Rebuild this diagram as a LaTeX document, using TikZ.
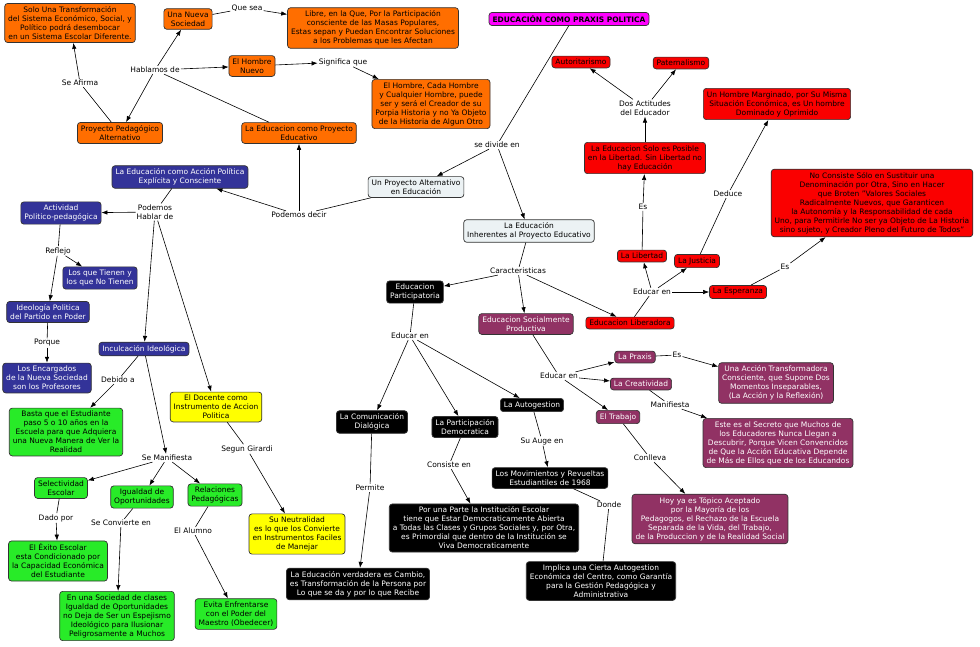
\documentclass[tikz,border=0pt]{standalone}
\usepackage{fontspec}
\setmainfont{DejaVu Sans}
\usetikzlibrary{arrows.meta}
\definecolor{org}{RGB}{255,110,0}
\definecolor{redb}{RGB}{250,0,0}
\definecolor{blu}{RGB}{51,51,153}
\definecolor{yel}{RGB}{255,255,0}
\definecolor{grn}{RGB}{40,235,40}
\definecolor{pur}{RGB}{145,50,100}
\definecolor{mag}{RGB}{255,0,255}
\definecolor{lgr}{RGB}{236,242,244}
\tikzset{
 box/.style={draw=black!80,line width=0.7pt,rounded corners=3pt,align=center,inner xsep=3.5pt,inner ysep=3pt,font=\fontsize{7.5}{9}\selectfont},
 O/.style={box,fill=org},
 R/.style={box,fill=redb},
 B/.style={box,fill=blu,text=white},
 Y/.style={box,fill=yel},
 G/.style={box,fill=grn},
 P/.style={box,fill=pur,text=white},
 K/.style={box,fill=black,text=white},
 L/.style={box,fill=lgr},
 lab/.style={fill=white,inner sep=1pt,align=center,font=\fontsize{7.5}{9}\selectfont},
 ar/.style={-{Latex[length=6pt,width=4.5pt]},line width=0.6pt},
 ln/.style={line width=0.6pt},
}
\begin{document}
\begin{tikzpicture}[x=1pt,y=-1pt]
\useasboundingbox[fill=white] (0,0) rectangle (980,646);
% orange
\node[O] (o1) at (70,23) {Solo Una Transformación\\del Sistema Económico, Social, y\\Político podrá desembocar\\en un Sistema Escolar Diferente.};
\node[O] (o2) at (188,19) {Una Nueva\\Sociedad};
\node[O] (o3) at (373,28) {Libre, en la Que, Por la Participación\\consciente de las Masas Populares,\\Estas sepan y Puedan Encontrar Soluciones\\a los Problemas que les Afectan};
\node[O] (o4) at (252,66) {El Hombre\\Nuevo};
\node[O] (o5) at (431,104) {El Hombre, Cada Hombre\\y Cualquier Hombre, puede\\ser y será el Creador de su\\Porpia Historia y no Ya Objeto\\de la Historia de Algun Otro};
\node[O] (o6) at (120,133) {Proyecto Pedagógico\\Alternativo};
\node[O] (o7) at (299,133) {La Educacion como Proyecto\\Educativo};
\node[lab] (lq) at (247,8) {Que sea};
\node[lab] (lh) at (155,70) {Hablamos de};
\node[lab] (lsa) at (80,83) {Se Afirma};
\node[lab] (lsq) at (343,62) {Significa que};
\draw[ln] (o2) -- (lq); \draw[ar] (lq) -- (o3);
\draw[ar] (lh) -- (o2); \draw[ar] (lh) -- (o4); \draw[ar] (lh) -- (o6);
\draw[ln] (o7.north) ++(-30,0) -- (lh);
\draw[ln] (o6) -- (lsa); \draw[ar] (lsa) -- (o1);
\draw[ar] (o4) -- (lsq); \draw[ar] (lsq) -- (o5);
% title
\node[box,fill=mag,font=\bfseries\fontsize{7.5}{9}\selectfont] (t) at (569,19) {EDUCACIÓN COMO PRAXIS POLITICA};
\node[lab] (lsd) at (497,145) {se divide en};
\node[L] (pa) at (416,187) {Un Proyecto Alternativo\\en Educación};
\node[L] (inh) at (529,231) {La Educación\\Inherentes al Proyecto Educativo};
\draw[ln] (t.south west)++(80,0) -- (lsd); \draw[ar] (lsd) -- (pa); \draw[ar] (lsd) -- (inh);
% red
\node[R] (aut) at (581,62) {Autoritarismo};
\node[R] (pat) at (681,63) {Paternalismo};
\node[lab] (lda) at (645,108) {Dos Actitudes\\del Educador};
\node[R] (sol) at (645,158) {La Educacion Solo es Posible\\en la Libertad. Sin Libertad no\\hay Educación};
\node[R] (hm) at (777,104) {Un Hombre Marginado, por Su Misma\\Situación Económica, es Un hombre\\Dominado y Oprimido};
\node[R] (nc) at (872,203) {No Consiste Sólo en Sustituir una\\Denominación por Otra, Sino en Hacer\\que Broten "Valores Sociales\\Radicalmente Nuevos, que Garanticen\\la Autonomía y la Responsabilidad de cada\\Uno, para Permitirle No ser ya Objeto de La Historia\\sino sujeto, y Creador Pleno del Futuro de Todos"};
\node[R] (lib) at (642,256) {La Libertad};
\node[R] (jus) at (697,261) {La Justicia};
\node[R] (esp) at (738,292) {La Esperanza};
\node[R] (edl) at (630,323) {Educacion Liberadora};
\node[lab] (les) at (643,207) {Es};
\node[lab] (lde) at (728,194) {Deduce};
\node[lab] (lee) at (652,292) {Educar en};
\node[lab] (les2) at (785,267) {Es};
\draw[ln] (lib) -- (les); \draw[ar] (les) -- (sol);
\draw[ar] (sol) -- (lda); \draw[ar] (lda) -- (aut); \draw[ar] (lda) -- (pat);
\draw[ln] (jus) -- (lde); \draw[ar] (lde) -- (hm);
\draw[ln] (edl) -- (lee); \draw[ar] (lee) -- (lib); \draw[ar] (lee) -- (jus); \draw[ar] (lee) -- (esp);
\draw[ln] (esp) -- (les2); \draw[ar] (les2) -- (nc);
% characteristics
\node[lab] (lca) at (518,271) {Caracteristicas};
\node[K] (epa) at (415,292) {Educacion\\Participatoria};
\node[P] (esp2) at (526,324) {Educacion Socialmente\\Productiva};
\draw[ln] (inh) -- (lca); \draw[ar] (lca) -- (epa); \draw[ar] (lca) -- (esp2); \draw[ar] (lca) -- (edl);
% black
\node[lab] (lep) at (410,336) {Educar en};
\node[K] (com) at (372,422) {La Comunicación\\Dialógica};
\node[K] (par) at (465,427) {La Participación\\Democratica};
\node[K] (aug) at (532,405) {La Autogestion};
\node[K] (mov) at (550,478) {Los Movimientos y Revueltas\\Estudiantiles de 1968};
\node[K] (por) at (484,528) {Por una Parte la Institución Escolar\\tiene que Estar Democraticamente Abierta\\a Todas las Clases y Grupos Sociales y, por Otra,\\es Primordial que dentro de la Institución se\\Viva Democraticamente};
\node[K] (ver) at (358,584) {La Educación verdadera es Cambio,\\es Transformación de la Persona por\\Lo que se da y por lo que Recibe};
\node[K] (imp) at (601,581) {Implica una Cierta Autogestion\\Económica del Centro, como Garantía\\para la Gestión Pedagógica y\\Administrativa};
\node[lab] (lsu) at (542,441) {Su Auge en};
\node[lab] (lco) at (449,465) {Consiste en};
\node[lab] (lpe) at (370,488) {Permite};
\node[lab] (ldo) at (609,505) {Donde};
\draw[ln] (epa) -- (lep); \draw[ar] (lep) -- (com); \draw[ar] (lep) -- (par); \draw[ar] (lep) -- (aug);
\draw[ln] (com) -- (lpe); \draw[ar] (lpe) -- (ver);
\draw[ln] (par) -- (lco); \draw[ar] (lco) -- (por);
\draw[ln] (aug) -- (lsu); \draw[ar] (lsu) -- (mov);
\draw[ln] (mov) -- (ldo); \draw[ln] (ldo) -- (imp);
% purple
\node[P] (pra) at (635,357) {La Praxis};
\node[P] (cre) at (641,384) {La Creatividad};
\node[P] (tra) at (618,417) {El Trabajo};
\node[P] (una) at (776,383) {Una Acción Transformadora\\Consciente, que Supone Dos\\Momentos Inseparables,\\(La Acción y la Reflexión)};
\node[P] (est) at (778,443) {Este es el Secreto que Muchos de\\los Educadores Nunca Llegan a\\Descubrir, Porque Vicen Convencidos\\de Que la Acción Educativa Depende\\de Más de Ellos que de los Educandos};
\node[P] (hoy) at (710,519) {Hoy ya es Tópico Aceptado\\por la Mayoría de los\\Pedagogos, el Rechazo de la Escuela\\Separada de la Vida, del Trabajo,\\de la Produccion y de la Realidad Social};
\node[lab] (lep2) at (559,376) {Educar en};
\node[lab] (les3) at (677,355) {Es};
\node[lab] (lma) at (670,405) {Manifiesta};
\node[lab] (lcl) at (650,458) {Conlleva};
\draw[ln] (esp2) -- (lep2); \draw[ar] (lep2) -- (pra); \draw[ar] (lep2) -- (cre); \draw[ar] (lep2) -- (tra);
\draw[ln] (pra) -- (les3); \draw[ar] (les3) -- (una);
\draw[ln] (cre) -- (lma); \draw[ar] (lma) -- (est);
\draw[ln] (tra) -- (lcl); \draw[ar] (lcl) -- (hoy);
% blue
\node[B] (acc) at (180,177) {La Educación como Acción Política\\Explícita y Consciente};
\node[B] (act) at (61,213) {Actividad\\Politico-pedagógica};
\node[B] (lqt) at (100,278) {Los que Tienen y\\los que No Tienen};
\node[B] (ide) at (48,312) {Ideología Politica\\del Partido en Poder};
\node[B] (inc) at (144,349) {Inculcación Ideológica};
\node[B] (enc) at (47,378) {Los Encargados\\de la Nueva Sociedad\\son los Profesores};
\node[lab] (lph) at (155,212) {Podemos\\Hablar de};
\node[lab] (lre) at (58,251) {Reflejo};
\node[lab] (lpo) at (47,343) {Porque};
\node[lab] (ldb) at (118,380) {Debido a};
\node[lab] (lpd) at (299,215) {Podemos decir};
\draw[ln] (pa) -- (lpd); \draw[ar] (lpd) -- (acc); \draw[ar] (lpd) -- (o7);
\draw[ln] (acc) -- (lph); \draw[ar] (lph) -- (act); \draw[ar] (lph) -- (inc);
\draw[ln] (act) -- (lre); \draw[ar] (lre) -- (ide); \draw[ar] (lre) -- (lqt);
\draw[ln] (ide) -- (lpo); \draw[ar] (lpo) -- (enc);
% yellow / green
\node[Y] (doc) at (216,407) {El Docente como\\Instrumento de Accion\\Politica};
\node[Y] (neu) at (297,534) {Su Neutralidad\\es lo que los Convierte\\en Instrumentos Faciles\\de Manejar};
\node[lab] (lsg) at (247,449) {Segun Girardi};
\draw[ar] (lph) -- (doc);
\draw[ln] (doc) -- (lsg); \draw[ar] (lsg) -- (neu);
\node[G] (bas) at (66,432) {Basta que el Estudiante\\paso 5 o 10 años en la\\Escuela para que Adquiera\\una Nueva Manera de Ver la\\Realidad};
\node[G] (sel) at (61,488) {Selectividad\\Escolar};
\node[G] (igu) at (142,497) {Igualdad de\\Oportunidades};
\node[G] (rel) at (215,495) {Relaciones\\Pedagógicas};
\node[G] (exi) at (58,561) {El Éxito Escolar\\esta Condicionado por\\la Capacidad Económica\\del Estudiante};
\node[G] (soc) at (117,616) {En una Sociedad de clases\\Igualdad de Oportunidades\\no Deja de Ser un Espejismo\\Ideológico para Ilusionar\\Peligrosamente a Muchos};
\node[G] (evi) at (236,614) {Evita Enfrentarse\\con el Poder del\\Maestro (Obedecer)};
\node[lab] (lsm) at (167,458) {Se Manifiesta};
\node[lab] (ldp) at (56,518) {Dado por};
\node[lab] (lsc) at (121,523) {Se Convierte en};
\node[lab] (lal) at (193,531) {El Alumno};
\draw[ln] (inc) -- (ldb); \draw[ar] (ldb) -- (bas);
\draw[ar] (inc) -- (lsm); \draw[ar] (lsm) -- (sel); \draw[ar] (lsm) -- (igu); \draw[ar] (lsm) -- (rel);
\draw[ln] (sel) -- (ldp); \draw[ar] (ldp) -- (exi);
\draw[ln] (igu) -- (lsc); \draw[ar] (lsc) -- (soc);
\draw[ln] (rel) -- (lal); \draw[ar] (lal) -- (evi);
\end{tikzpicture}
\end{document}
